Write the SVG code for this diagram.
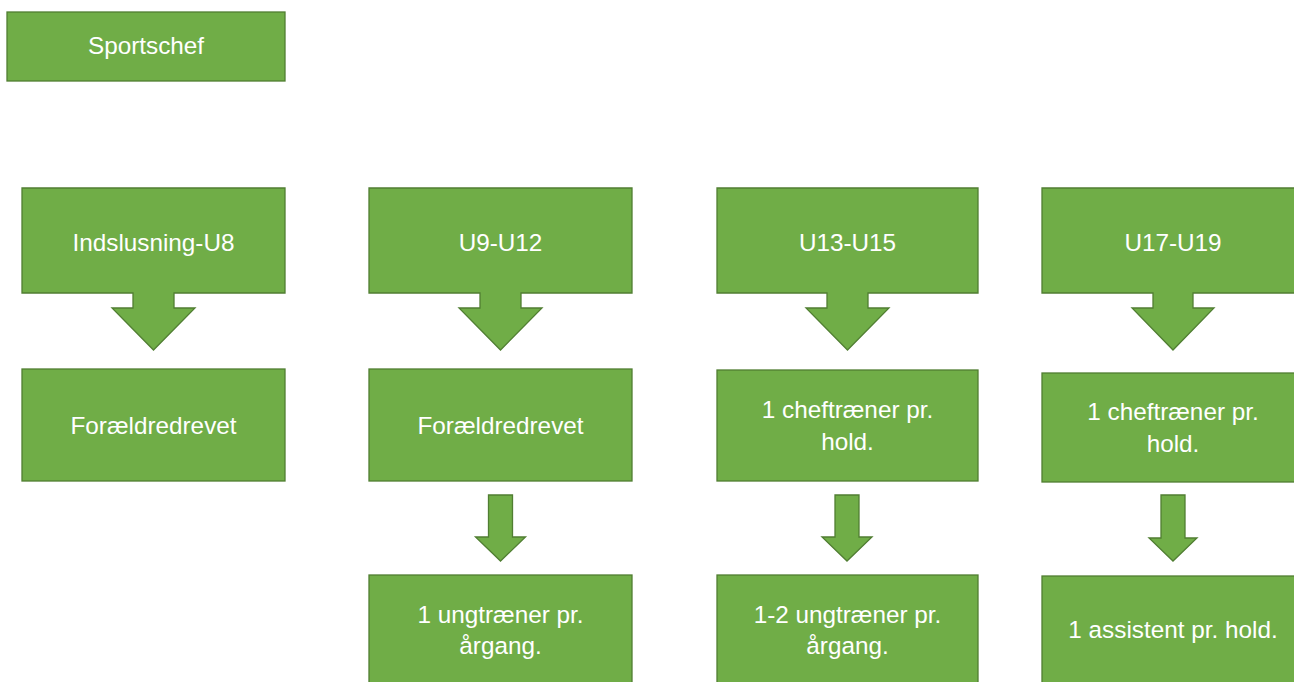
<svg xmlns="http://www.w3.org/2000/svg" width="1294" height="682" viewBox="0 0 1294 682">
<style>
.box{fill:#70AD47;stroke:#507E32;stroke-width:1.3}
.t{fill:#FFFFFF;font-family:"Liberation Sans",Arial,sans-serif;font-size:24.3px;text-anchor:middle}
</style>
<rect x="0" y="0" width="1294" height="682" fill="#FFFFFF"/>
<g id="sportschef">
<rect class="box" x="7" y="12" width="278" height="69"/>
<text class="t" x="146" y="54">Sportschef</text>
</g>
<g id="u8">
<path class="box" d="M22,188 H285 V293 H174 V308 H195 L153.5,350 L112,308 H133 V293 H22 Z"/>
<text class="t" x="153.5" y="251">Indslusning-U8</text>
</g>
<g id="u9u12">
<path class="box" d="M369,188 H632 V293 H521 V308 H542 L500.5,350 L459,308 H480 V293 H369 Z"/>
<text class="t" x="500.5" y="251">U9-U12</text>
</g>
<g id="u13u15">
<path class="box" d="M717,188 H978 V293 H868 V308 H889 L847.5,350 L806,308 H827 V293 H717 Z"/>
<text class="t" x="847.5" y="251">U13-U15</text>
</g>
<g id="u17u19">
<path class="box" d="M1042,188 H1304 V293 H1193 V308 H1214 L1173,350 L1132,308 H1153 V293 H1042 Z"/>
<text class="t" x="1173" y="251">U17-U19</text>
</g>
<g id="foraeldre1">
<rect class="box" x="22" y="369" width="263" height="112"/>
<text class="t" x="153.5" y="434">Forældredrevet</text>
</g>
<g id="foraeldre2">
<rect class="box" x="369" y="369" width="263" height="112"/>
<text class="t" x="500.5" y="434">Forældredrevet</text>
</g>
<g id="chef1">
<rect class="box" x="717" y="370" width="261" height="111"/>
<text class="t" x="847.5" y="418">1 cheftræner pr.</text>
<text class="t" x="847.5" y="450">hold.</text>
</g>
<g id="chef2">
<rect class="box" x="1042" y="373" width="262" height="109"/>
<text class="t" x="1173" y="420">1 cheftræner pr.</text>
<text class="t" x="1173" y="452">hold.</text>
</g>
<g id="connectors">
<path class="box" d="M488.5,495 H512.5 V537 H525.5 L500.5,561 L475.5,537 H488.5 Z"/>
<path class="box" d="M835,495 H859 V537 H872 L847,561 L822,537 H835 Z"/>
<path class="box" d="M1161,495 H1185 V538 H1197 L1173,561 L1149,538 H1161 Z"/>
</g>
<g id="ungtraener1">
<rect class="box" x="369" y="575" width="263" height="120"/>
<text class="t" x="500.5" y="623">1 ungtræner pr.</text>
<text class="t" x="500.5" y="654">årgang.</text>
</g>
<g id="ungtraener2">
<rect class="box" x="717" y="575" width="261" height="120"/>
<text class="t" x="847.5" y="623">1-2 ungtræner pr.</text>
<text class="t" x="847.5" y="654">årgang.</text>
</g>
<g id="assistent">
<rect class="box" x="1042" y="576" width="262" height="120"/>
<text class="t" x="1173" y="638">1 assistent pr. hold.</text>
</g>
</svg>
